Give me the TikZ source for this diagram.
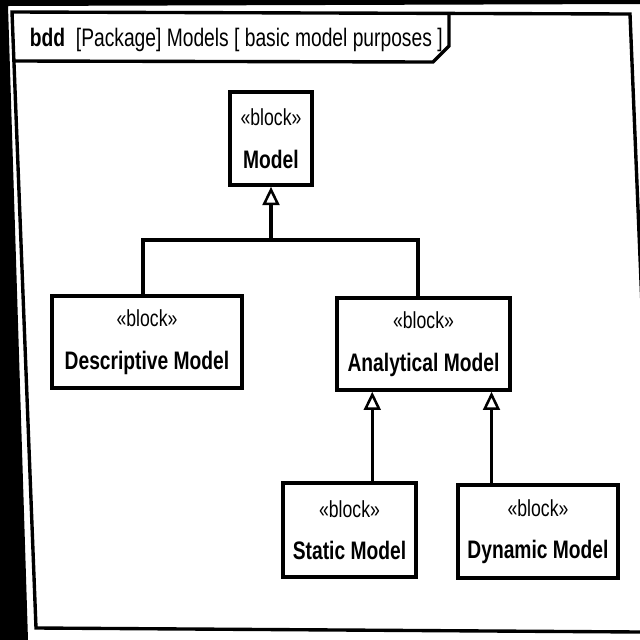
\documentclass[tikz,border=0pt]{standalone}
\usepackage{fontspec}
\setmainfont[FakeStretch=0.76]{Liberation Sans}
\usepackage{tikz}
\usetikzlibrary{arrows.meta, positioning, calc}
\tikzset{
  blockbox/.style={
    draw, line width=2.4pt, align=center, fill=white,
    inner sep=2pt
  },
  framelinestyle/.style={line width=2.4pt, line join=miter},
  genarrow/.style={line width=2.4pt, -{Triangle[open, length=13pt, width=12pt, line width=1.8pt]}},
  genline/.style={line width=2.4pt},
  headerlabel/.style={font=\fontsize{18}{21}\selectfont, anchor=west},
}
\newcommand{\blocktext}[1]{{\fontsize{16.5}{19}\selectfont «block»}\\[16pt]{\fontsize{18}{21}\selectfont\bfseries #1}}

\begin{document}
\begin{tikzpicture}[x=0.025cm, y=-0.025cm]
  \useasboundingbox (0,0) rectangle (640,640);
  % dark edges of the scan
  \fill[black] (0,0) -- (640,0) -- (640,4) -- (8,6) -- (28,640) -- (0,640) -- cycle;

  % Frame and header tab
  \draw[framelinestyle] (643,330) -- (630,14) -- (12,12) -- (36,628) -- (640,632);
  \draw[framelinestyle] (13,61) -- (433,62) -- (449,46) -- (449,13);
  \node[headerlabel] (hdr) at (25,40) {\textbf{bdd}\ \ [Package] Models [ basic model purposes ]};

  % Blocks
  \node[blockbox, minimum width=2.05cm, minimum height=2.33cm] (model) at (271,138.5) {\blocktext{Model}};
  \node[blockbox, minimum width=4.75cm, minimum height=2.3cm] (desc) at (147,342) {\blocktext{Descriptive Model}};
  \node[blockbox, minimum width=4.33cm, minimum height=2.3cm] (anl) at (423.5,344) {\blocktext{Analytical Model}};
  \node[blockbox, minimum width=3.33cm, minimum height=2.35cm] (stat) at (349.5,530) {\blocktext{Static Model}};
  \node[blockbox, minimum width=4cm, minimum height=2.33cm] (dyn) at (538,531.5) {\blocktext{Dynamic Model}};

  % Generalizations
  \coordinate (junc) at (model.south |- 0,240);
  \draw[genline] (desc.north -| 143,0) |- (junc) -| (anl.north -| 418,0);
  \draw[genarrow] (junc) -- (model.south);

  \coordinate (anlstat) at ($(anl.south west)!0.21!(anl.south east)$);
  \coordinate (anldyn) at ($(anl.south west)!0.885!(anl.south east)$);
  \draw[genarrow] (anlstat |- stat.north) -- (anlstat);
  \draw[genarrow] (anldyn |- dyn.north) -- (anldyn);
\end{tikzpicture}
\end{document}
